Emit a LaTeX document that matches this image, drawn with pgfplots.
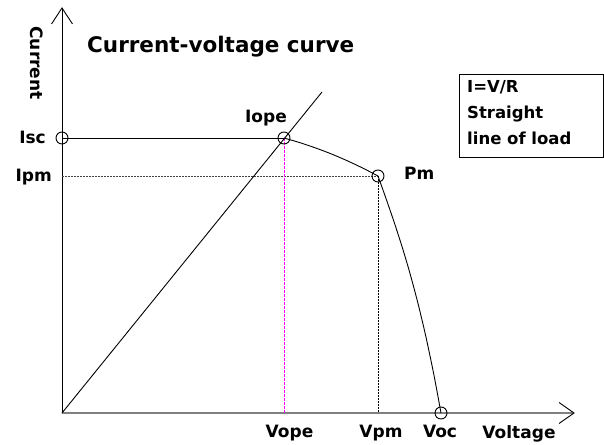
\documentclass[border=0pt]{standalone}
\usepackage{pgfplots}
\pgfplotsset{compat=1.18}
\usepackage{fontspec}
\setmainfont{DejaVu Sans}
\definecolor{axgray}{RGB}{128,128,128}
\definecolor{mag}{RGB}{255,0,255}
\begin{document}
\begin{tikzpicture}
\begin{axis}[
  at={(0,0)}, anchor=south west,
  x=1pt, y=1pt,
  xmin=0, xmax=604, ymin=0, ymax=444,
  hide axis, clip=false,
]
% axes
\addplot[axgray, line width=1.5pt] coordinates {(62,31) (573,31)};
\addplot[black, line width=0.9pt] coordinates {(559,41.5) (574,31) (559,20.5)};
\addplot[black, line width=0.9pt] coordinates {(62,31) (62,436)};
\addplot[black, line width=0.9pt] coordinates {(51.5,420) (62,436) (72.5,420)};
% Isc line
\addplot[black, line width=0.9pt] coordinates {(62,306) (284,306)};
% Ipm dashed
\addplot[black!75, line width=0.9pt, dash pattern=on 2pt off 1pt] coordinates {(62,268) (378,268)};
% Vpm dashed
\addplot[black, line width=0.9pt, dash pattern=on 2pt off 1pt] coordinates {(378,268) (378,31)};
% Vope magenta dashed
\addplot[mag, line width=0.9pt, dash pattern=on 3pt off 1pt] coordinates {(284,306) (284,31)};
% load line
\addplot[black, line width=0.9pt] coordinates {(62,31) (322,352)};
% I-V curve
\addplot[black, line width=0.9pt, smooth] coordinates {(284,306) (300,301.3) (316,295.9) (332,289.8) (348,282.9) (364,275.3) (378,268)};
\addplot[black, line width=0.9pt, smooth] coordinates {(378,268) (386,245.5) (394,222.2) (402,197.5) (410,170.5) (418,140.5) (426,106.8) (434,68.6) (441,31)};
% circles
\addplot[only marks, mark=o, mark size=6pt, mark options={black, line width=0.9pt}] coordinates {(62,306) (284,306) (378,268) (441,31)};
% labels
\node[font=\bfseries\fontsize{21.5}{26}\selectfont, anchor=base west, inner sep=0pt] at (axis cs:87,391) {Current-voltage curve};
\node[font=\bfseries\fontsize{17}{20}\selectfont, rotate=-90, inner sep=0pt] at (axis cs:37,381) {Current};
\node[font=\bfseries\fontsize{17}{20}\selectfont, anchor=base east, inner sep=0pt] at (axis cs:46,300) {Isc};
\node[font=\bfseries\fontsize{17}{20}\selectfont, anchor=base east, inner sep=0pt] at (axis cs:52,262) {Ipm};
\node[font=\bfseries\fontsize{17}{20}\selectfont, anchor=base, inner sep=0pt] at (axis cs:266,321) {Iope};
\node[font=\bfseries\fontsize{17}{20}\selectfont, anchor=base west, inner sep=0pt] at (axis cs:404,264) {Pm};
\node[font=\bfseries\fontsize{17}{20}\selectfont, anchor=base, inner sep=0pt] at (axis cs:289.5,7) {Vope};
\node[font=\bfseries\fontsize{17}{20}\selectfont, anchor=base, inner sep=0pt] at (axis cs:381,7) {Vpm};
\node[font=\bfseries\fontsize{17}{20}\selectfont, anchor=base, inner sep=0pt] at (axis cs:440,7) {Voc};
\node[font=\bfseries\fontsize{17}{20}\selectfont, anchor=base, inner sep=0pt] at (axis cs:519,6) {Voltage};
\draw[black, line width=0.9pt] (axis cs:459,287) rectangle (axis cs:603,370);
\node[font=\bfseries\fontsize{16.5}{18}\selectfont, anchor=base west, inner sep=0pt] at (axis cs:467,351) {I=V/R};
\node[font=\bfseries\fontsize{16.5}{18}\selectfont, anchor=base west, inner sep=0pt] at (axis cs:467,325) {Straight};
\node[font=\bfseries\fontsize{16.5}{18}\selectfont, anchor=base west, inner sep=0pt] at (axis cs:467,299) {line of load};
\end{axis}
\pgfresetboundingbox
\path[use as bounding box] (0,0) rectangle (604pt,444pt);
\end{tikzpicture}
\end{document}
